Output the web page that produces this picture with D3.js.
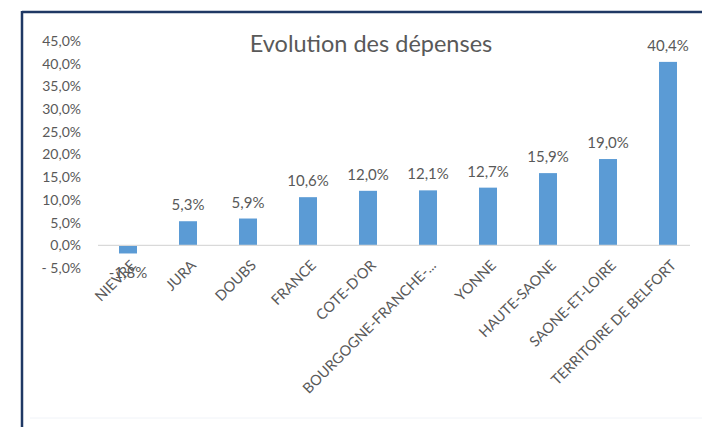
<!DOCTYPE html>
<html><head><meta charset="utf-8">
<script src="https://cdnjs.cloudflare.com/ajax/libs/d3/7.8.5/d3.min.js"></script>
<style>
body{margin:0;background:#fff;}
svg{display:block;}
</style></head>
<body>
<svg id="c" width="702" height="427"></svg>
<script>
const categories = ["NIEVRE","JURA","DOUBS","FRANCE","COTE-D'OR","BOURGOGNE-FRANCHE-...","YONNE","HAUTE-SAONE","SAONE-ET-LOIRE","TERRITOIRE DE BELFORT"];
const values = [-1.8, 5.3, 5.9, 10.6, 12.0, 12.1, 12.7, 15.9, 19.0, 40.4];
const yTicks = [-5, 0, 5, 10, 15, 20, 25, 30, 35, 40, 45];
const title = "Evolution des dépenses";

const svg = d3.select("#c");
const font = "Lato, 'Open Sans', sans-serif";
const grey = "#595959";

// frame
svg.append("line").attr("x1",22).attr("x2",702).attr("y1",12).attr("y2",12).attr("stroke","#1f3864").attr("stroke-width",2.5);
svg.append("line").attr("x1",22).attr("x2",22).attr("y1",11).attr("y2",427).attr("stroke","#1f3864").attr("stroke-width",2.5);
svg.append("line").attr("x1",30).attr("x2",702).attr("y1",418).attr("y2",418).attr("stroke","#f0f3f8").attr("stroke-width",1);

const x = d3.scaleBand().domain(categories).range([98, 698]).paddingInner(0.7).paddingOuter(0.35);
const y = d3.scaleLinear().domain([-5, 45]).range([268, 41]);

const fmt = v => (v < 0 ? "- " : "") + Math.abs(v).toFixed(1).replace(".", ",") + "%";
const fmtVal = v => (v < 0 ? "-" : "") + Math.abs(v).toFixed(1).replace(".", ",") + "%";

// y axis labels
const yAxis = d3.axisLeft(y).tickValues(yTicks).tickSize(0).tickPadding(0).tickFormat(fmt);
const ya = svg.append("g").attr("transform","translate(81,0)").call(yAxis);
ya.select(".domain").remove();
ya.selectAll("text").attr("fill",grey).style("font-family",font).style("font-size","14px");

// bars
svg.selectAll("rect.bar").data(values).join("rect").attr("class","bar")
  .attr("x",(d,i)=>x(categories[i]))
  .attr("width",x.bandwidth())
  .attr("y",d=>y(Math.max(0,d)))
  .attr("height",d=>Math.abs(y(d)-y(0)))
  .attr("fill","#5b9bd5");

// zero line
svg.append("line").attr("x1",98).attr("x2",690).attr("y1",y(0)).attr("y2",y(0)).attr("stroke","#d9d9d9").attr("stroke-width",1.2);

// x axis labels
const xAxis = d3.axisBottom(x).tickSize(0).tickPadding(0);
const xa = svg.append("g").attr("transform",`translate(0,${y(0)})`).call(xAxis);
xa.select(".domain").remove();
xa.selectAll("text")
  .attr("fill",grey).style("font-family",font).style("font-size","14.5px")
  .attr("text-anchor","end").attr("dy",null).attr("y",0)
  .attr("transform","translate(9,21) rotate(-45)");

// value labels
svg.selectAll("text.val").data(values).join("text").attr("class","val")
  .attr("x",(d,i)=>x(categories[i])+x.bandwidth()/2)
  .attr("y",d=> d>=0 ? y(d)-11 : y(d)+25)
  .attr("text-anchor","middle")
  .attr("fill",grey).style("font-family",font).style("font-size","15px")
  .text(fmtVal);

// title
svg.append("text").attr("x",371).attr("y",52).attr("text-anchor","middle")
  .attr("fill",grey).style("font-family",font).style("font-size","23.5px").text(title);
</script>
</body></html>
